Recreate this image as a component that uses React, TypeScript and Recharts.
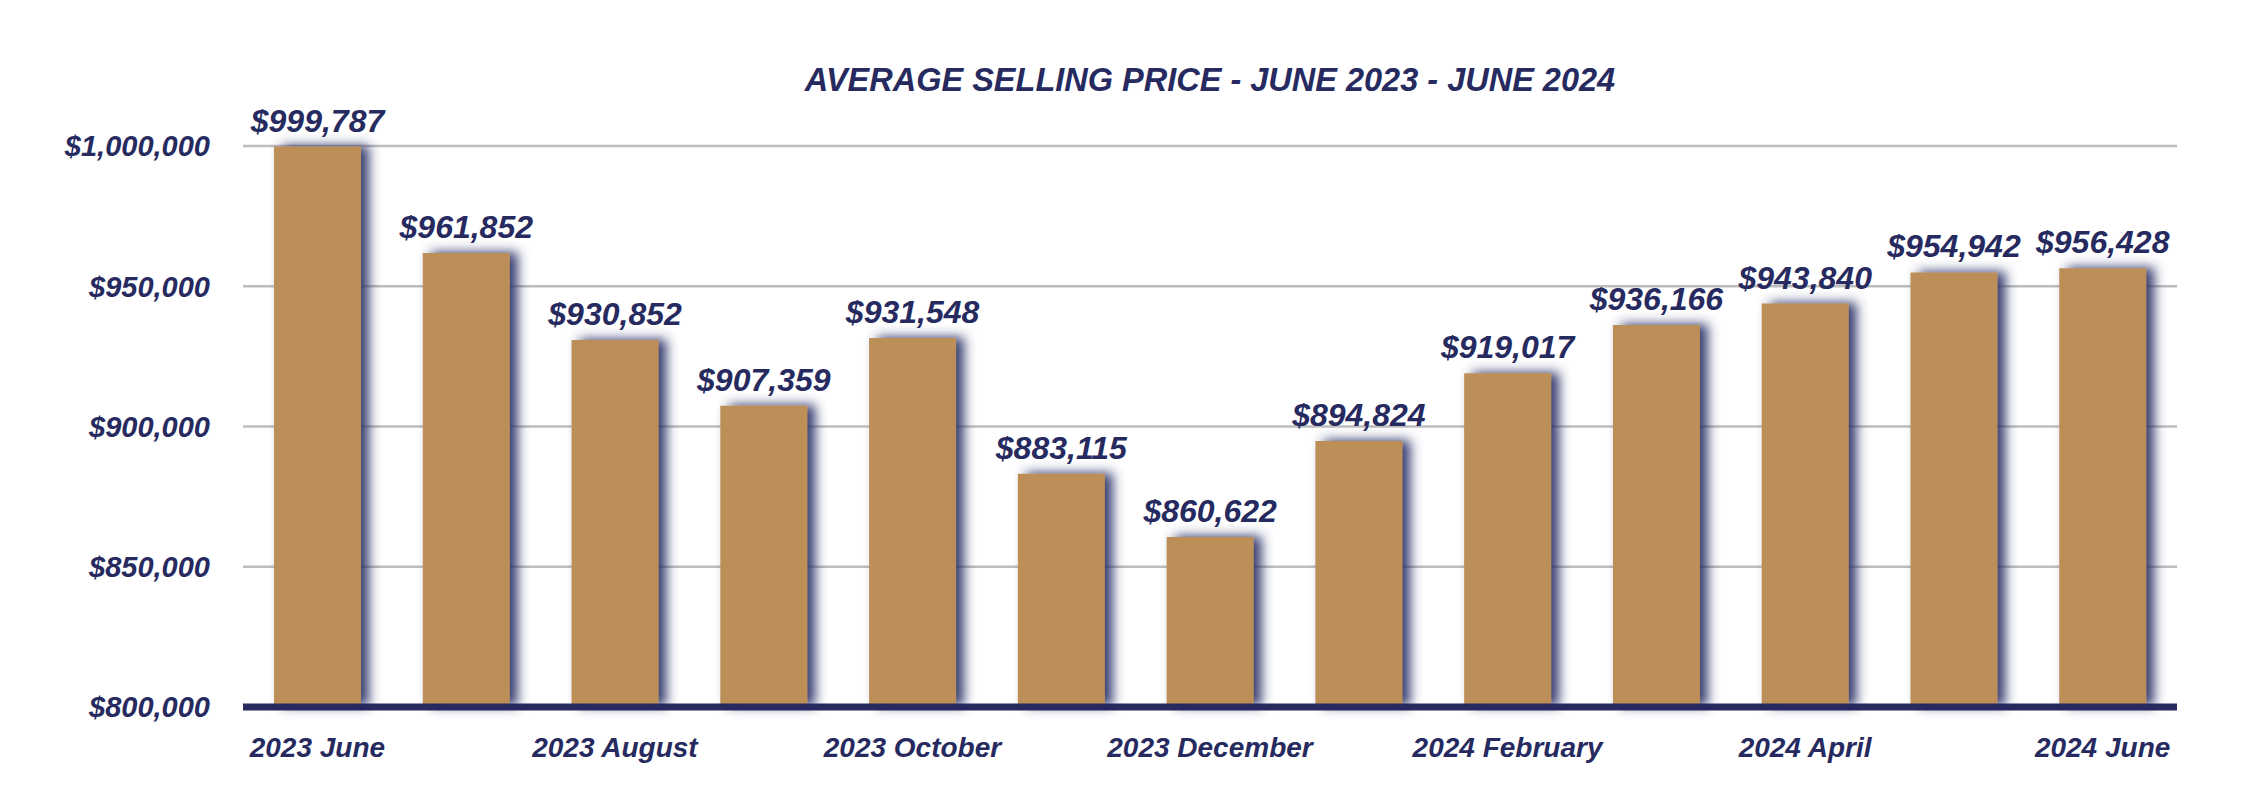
import { BarChart, Bar, XAxis, YAxis, CartesianGrid, LabelList } from "recharts";

const months = [
  "2023 June",
  "2023 July",
  "2023 August",
  "2023 September",
  "2023 October",
  "2023 November",
  "2023 December",
  "2024 January",
  "2024 February",
  "2024 March",
  "2024 April",
  "2024 May",
  "2024 June",
];

const prices = [
  999787, 961852, 930852, 907359, 931548, 883115, 860622, 894824, 919017, 936166, 943840,
  954942, 956428,
];

const yTicks = [800000, 850000, 900000, 950000, 1000000];

const title = "AVERAGE SELLING PRICE - JUNE 2023 - JUNE 2024";

const NAVY = "#262a5f";
const GOLD = "#bc8e58";
const FONT = "'Liberation Sans', Arial, sans-serif";

const money = (v: number) => `$${Number(v).toLocaleString("en-US")}`;

export default function App() {
  const data = months.map((m, i) => ({ month: m, price: prices[i] }));

  const textStyle = {
    fill: NAVY,
    fontFamily: FONT,
    fontWeight: 700,
    fontStyle: "italic" as const,
  };

  return (
    <div style={{ position: "absolute", left: 0, top: 0, width: 2268, height: 790, background: "#fff" }}>
      <svg width={0} height={0} style={{ position: "absolute" }}>
        <defs>
          <filter id="barShadow" x="-30%" y="-20%" width="160%" height="140%">
            <feDropShadow dx={8} dy={-1} stdDeviation={6} floodColor="#2b3068" floodOpacity={0.95} />
          </filter>
        </defs>
      </svg>
      <svg
        width={2268}
        height={120}
        style={{ position: "absolute", left: 0, top: 0, pointerEvents: "none" }}
      >
        <text x={1210} y={91} textAnchor="middle" fontSize={32.5} {...textStyle}>
          {title}
        </text>
      </svg>
      <BarChart
        width={2268}
        height={790}
        data={data}
        margin={{ top: 146, right: 91, bottom: 23, left: 0 }}
      >
        <CartesianGrid vertical={false} stroke="#bdbdbd" strokeWidth={2.5} />
        <XAxis
          dataKey="month"
          interval={1}
          height={60}
          tickLine={false}
          tickSize={0}
          tickMargin={30}
          axisLine={{ stroke: NAVY, strokeWidth: 7 }}
          tick={{ ...textStyle, fontSize: 28 }}
        />
        <YAxis
          width={243}
          domain={[800000, 1000000]}
          ticks={yTicks}
          tickFormatter={money}
          axisLine={false}
          tickLine={false}
          tickSize={0}
          tickMargin={33}
          tick={{ ...textStyle, fontSize: 29 }}
        />
        <Bar
          dataKey="price"
          fill={GOLD}
          barSize={87}
          isAnimationActive={false}
          style={{ filter: "url(#barShadow)" }}
        >
          <LabelList
            dataKey="price"
            position="top"
            offset={15}
            formatter={(v: any) => money(v)}
            style={{ ...textStyle, fontSize: 32 }}
          />
        </Bar>
      </BarChart>
    </div>
  );
}
